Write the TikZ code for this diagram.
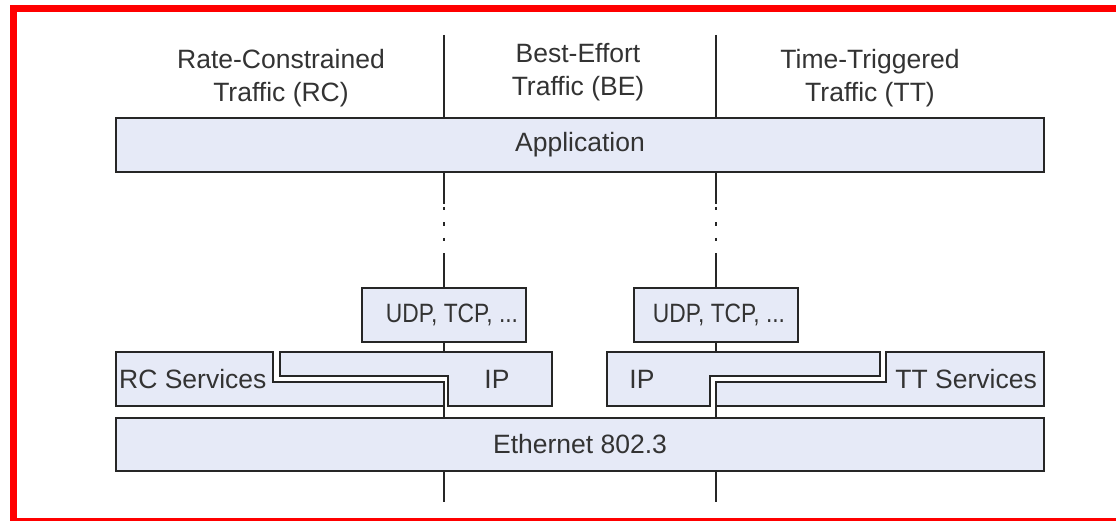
\documentclass[tikz,border=0pt]{standalone}
\usepackage{fontspec}
\setmainfont{Liberation Sans}
\definecolor{boxfill}{RGB}{230,234,247}
\definecolor{edge}{RGB}{38,38,38}
\definecolor{frame}{RGB}{255,0,0}
\begin{document}
\begin{tikzpicture}[x=1pt,y=-1pt,
  every node/.style={font=\fontsize{26.5}{33}\selectfont, text=black!80},
  box/.style={draw=edge,fill=boxfill,line width=2pt,inner sep=0pt},
  shapebox/.style={draw=edge,fill=boxfill,line width=2pt,line join=miter},
  conn/.style={draw=edge,line width=2pt},
  dotconn/.style={draw=edge,line width=2pt,dash pattern=on 31pt off 3pt on 3.5pt off 12pt on 3.5pt off 12pt on 3.5pt off 12pt on 60pt},
  lbl/.style={inner sep=0pt,align=center}]
\useasboundingbox (0,0) rectangle (1116,521);
\fill[white] (0,0) rectangle (1116,521);
\begin{scope}
\clip (0,0) rectangle (1116,521);
\draw[frame,line width=7.5pt] (13.5,8.5) rectangle (1130,522);
\end{scope}

% column guide coordinates
\coordinate (L) at (444,0);
\coordinate (R) at (716,0);
\coordinate (topL) at (444,35);
\coordinate (topR) at (716,35);
\coordinate (botL) at (444,502);
\coordinate (botR) at (716,502);

% headings
\node[lbl] (rc) at (281,78.5) {Rate-Constrained\\Traffic (RC)};
\node[lbl] (be) at (578,72.5) {Best-Effort\\Traffic (BE)};
\node[lbl] (tt) at (870,78.5) {Time-Triggered\\Traffic (TT)};

% boxes
\node[box,minimum width=928pt,minimum height=54pt] (app) at (580,145) {};
\node[lbl] at (app.center) {Application};
\node[box,minimum width=164pt,minimum height=54pt] (udpL) at (444,315) {};
\node[lbl] at (452,315) {\scalebox{0.86}[1]{UDP, TCP, ...}};
\node[box,minimum width=164pt,minimum height=54pt] (udpR) at (716,315) {};
\node[lbl] at (719,315) {\scalebox{0.86}[1]{UDP, TCP, ...}};
\node[box,minimum width=928pt,minimum height=53pt] (eth) at (580,444.5) {};
\node[lbl] at (eth.center) {Ethernet 802.3};

% interlocking middle row
\path[shapebox] (116,352) -- (273,352) -- (273,382) -- (444,382) -- (444,406) -- (116,406) -- cycle;
\path[shapebox] (280,352) -- (552,352) -- (552,406) -- (448,406) -- (448,376) -- (280,376) -- cycle;
\path[shapebox] (607,352) -- (880,352) -- (880,376) -- (710,376) -- (710,406) -- (607,406) -- cycle;
\path[shapebox] (886,352) -- (1044,352) -- (1044,406) -- (716,406) -- (716,382) -- (886,382) -- cycle;
\coordinate (ipLtop) at (444,352);
\coordinate (ipRtop) at (716,352);
\coordinate (rcEnd) at (444,406);
\coordinate (ttEnd) at (716,406);
\node[lbl,anchor=west] (rcs) at (119,379) {RC Services};
\node[lbl] (ipL) at (497,379) {IP};
\node[lbl] (ipR) at (642,379) {IP};
\node[lbl,anchor=east] (tts) at (1037,379) {TT Services};

% connectors
\draw[conn] (topL) -- (app.north -| L);
\draw[conn] (topR) -- (app.north -| R);
\draw[dotconn] (app.south -| L) -- (udpL.north);
\draw[dotconn] (app.south -| R) -- (udpR.north);
\draw[conn] (udpL.south) -- (ipLtop);
\draw[conn] (udpR.south) -- (ipRtop);
\draw[conn] (rcEnd) -- (eth.north -| L);
\draw[conn] (ttEnd) -- (eth.north -| R);
\draw[conn] (eth.south -| L) -- (botL);
\draw[conn] (eth.south -| R) -- (botR);
\end{tikzpicture}
\end{document}
